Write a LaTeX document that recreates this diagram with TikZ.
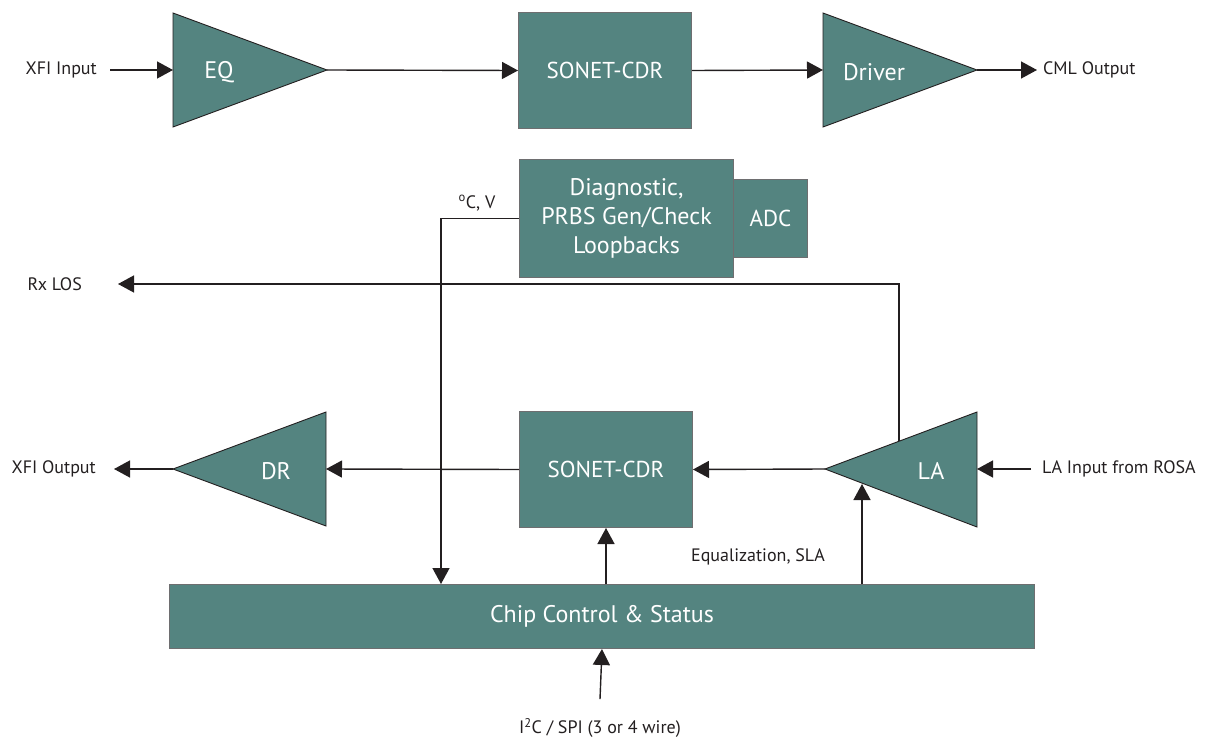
\documentclass[tikz,border=0pt]{standalone}
\usepackage{fontspec}
\setmainfont{PT Sans}
\usetikzlibrary{arrows.meta}
\definecolor{tealfill}{RGB}{84,132,128}
\definecolor{boxedge}{RGB}{110,110,112}
\definecolor{ink}{RGB}{35,31,32}
\begin{document}
\begin{tikzpicture}[x=1pt,y=-1pt,
  blk/.style={draw=boxedge, line width=1pt, fill=tealfill, text=white, font=\fontsize{23}{28}\selectfont, inner sep=0pt, align=center},
  amp/.style={draw=ink, line width=0.9pt, fill=tealfill},
  amptext/.style={text=white, font=\fontsize{24}{28}\selectfont, inner sep=0pt},
  lbl/.style={text=ink, font=\fontsize{18}{21}\selectfont, inner sep=0pt},
  wire/.style={draw=ink, line width=1.4pt},
  arr/.style={wire, -{Triangle[length=16pt,width=17pt]}}]
\useasboundingbox (0,0) rectangle (1211,741);

% ---------- top row ----------
\node[lbl, anchor=east] (xfiin) at (97,70) {XFI Input};
\draw[amp] (173,13) -- (327,70) -- (173,127) -- cycle;
\coordinate (eqI) at (173,70);
\coordinate (eqO) at (327,70);
\node[amptext] (eqL) at (219,72) {EQ};

\node[blk, minimum width=173pt, minimum height=116pt, anchor=north west] (cdr1) at (518,12) {SONET-CDR};

\draw[amp] (823,13) -- (977,70) -- (823,127) -- cycle;
\coordinate (drvI) at (823,70);
\coordinate (drvO) at (977,70);
\node[amptext] (drvL) at (874,72) {Driver};
\node[lbl, anchor=west] (cml) at (1043,70) {CML Output};

\draw[arr] ([xshift=13pt]xfiin.east) -- (eqI);
\draw[arr] (eqO) -- (cdr1.west);
\draw[arr] (cdr1.east) -- (drvI);
\draw[arr] (drvO) -- ([xshift=-6pt]cml.west);

% ---------- diagnostic ----------
\node[blk, minimum width=74pt, minimum height=78pt, anchor=north west] (adc) at (733,179) {ADC};
\node[blk, minimum width=214pt, minimum height=118pt, anchor=north west, font=\fontsize{24}{29}\selectfont] (diag) at (519,159) {Diagnostic,\\PRBS Gen/Check\\Loopbacks};
\node[lbl] (degv) at (477,203) {\textsuperscript{o}C, V};

% ---------- bottom row ----------
\node[blk, minimum width=173pt, minimum height=116pt, anchor=north west] (cdr2) at (519,411) {SONET-CDR};

\draw[amp] (326,412) -- (173,469) -- (326,526) -- cycle;
\coordinate (drI) at (326,469);
\coordinate (drO) at (173,469);
\node[amptext] (drL) at (276,471) {DR};
\node[lbl, anchor=east] (xfiout) at (96,469) {XFI Output};

\draw[amp] (977,412) -- (825,469) -- (977,527) -- cycle;
\coordinate (laI) at (977,469);
\coordinate (laO) at (825,469);
\coordinate (laT) at (899,441);
\coordinate (laB) at (862,484);
\node[amptext] (laL) at (931,471) {LA};
\node[lbl, anchor=west] (lain) at (1042,469) {LA Input from ROSA};

\node[lbl, anchor=east] (rxlos) at (82,284) {Rx LOS};

\node[blk, minimum width=865pt, minimum height=64pt, anchor=north west, font=\fontsize{24}{28}\selectfont] (ctrl) at (169,584) {Chip Control \& Status};
\coordinate (tapT) at (441,584);

\node[lbl] (i2c) at (600,728) {I\textsuperscript{2}C / SPI (3 or 4 wire)};
\node[lbl] (eqsla) at (758,557) {Equalization, SLA};

% ---------- connectors ----------
\draw[arr] ([xshift=-11pt]lain.west) -- (laI);
\draw[arr] (laO) -- (cdr2.east);
\draw[arr] (cdr2.west) -- (drI);
\draw[arr] (drO) -- ([xshift=18pt]xfiout.east);
\draw[arr] (laT) |- ([xshift=36pt]rxlos.east);
\draw[arr] (diag.west) -| (tapT);
\draw[arr] (cdr2.south |- ctrl.north) -- (cdr2.south);
\draw[arr] (laB |- ctrl.north) -- (laB);
\draw[arr] ([yshift=19pt]i2c.north) -- (ctrl.south);
\end{tikzpicture}
\end{document}
